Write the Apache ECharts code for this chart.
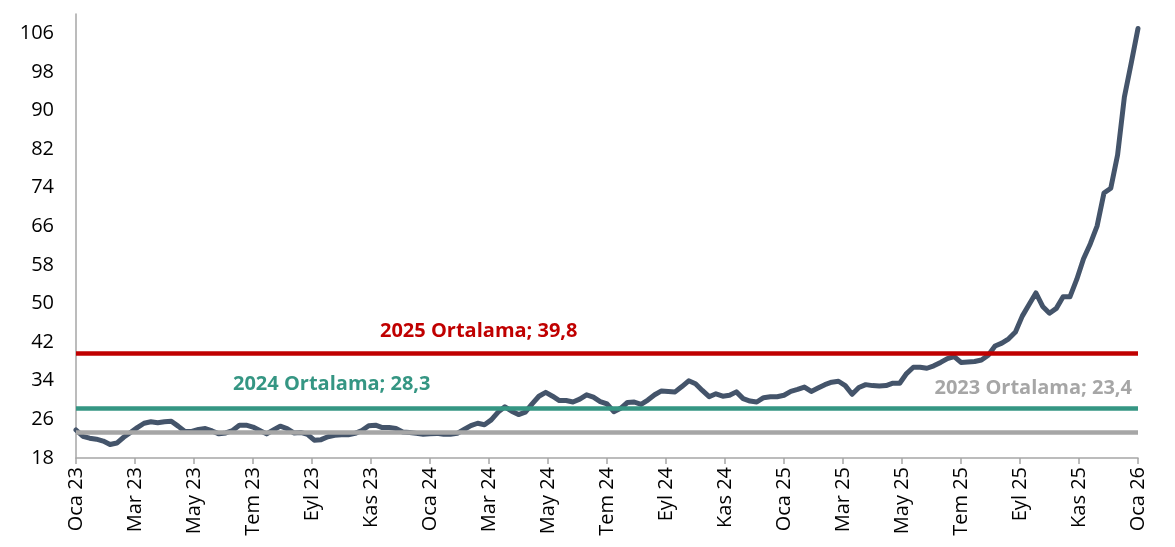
<!DOCTYPE html>
<html>
<head>
<meta charset="utf-8">
<script src="https://cdn.jsdelivr.net/npm/echarts@6/dist/echarts.min.js"></script>
<style>
  html, body { margin: 0; padding: 0; background: #fff; }
  #chart { width: 1175px; height: 547px; }
</style>
</head>
<body>
<div id="chart"></div>
<script>
// x ekseni etiketleri (2 ayda bir)
const tickLabels = ['Oca 23', 'Mar 23', 'May 23', 'Tem 23', 'Eyl 23', 'Kas 23',
  'Oca 24', 'Mar 24', 'May 24', 'Tem 24', 'Eyl 24', 'Kas 24',
  'Oca 25', 'Mar 25', 'May 25', 'Tem 25', 'Eyl 25', 'Kas 25', 'Oca 26'];

// haftalik degerler, Oca 23 - Oca 26
const weeklyValues = [
  23.8, 22.5, 22.1, 21.9, 21.5, 20.8, 21.1, 22.3, 23.3, 24.3,
  25.2, 25.5, 25.3, 25.5, 25.6, 24.6, 23.5, 23.5, 23.9, 24.1,
  23.6, 23.0, 23.2, 23.7, 24.8, 24.8, 24.4, 23.7, 23.0, 23.8,
  24.6, 24.1, 23.2, 23.3, 22.9, 21.7, 21.8, 22.4, 22.7, 22.8,
  22.8, 23.1, 23.7, 24.7, 24.8, 24.3, 24.3, 24.1, 23.4, 23.3,
  23.1, 22.9, 23.0, 23.1, 22.9, 22.9, 23.1, 23.9, 24.7, 25.2,
  24.9, 25.9, 27.5, 28.6, 27.7, 27.0, 27.5, 29.2, 30.8, 31.6,
  30.8, 29.9, 29.9, 29.6, 30.2, 31.1, 30.6, 29.7, 29.2, 27.6,
  28.3, 29.5, 29.6, 29.1, 30.0, 31.1, 31.9, 31.8, 31.7, 32.8,
  34.0, 33.4, 32.0, 30.7, 31.3, 30.8, 31.0, 31.7, 30.3, 29.8,
  29.6, 30.5, 30.7, 30.7, 31.0, 31.8, 32.2, 32.7, 31.8, 32.5,
  33.2, 33.7, 33.9, 33.0, 31.2, 32.6, 33.2, 33.0, 32.9, 33.0,
  33.5, 33.5, 35.5, 36.8, 36.8, 36.6, 37.1, 37.8, 38.6, 39.0,
  37.8, 37.9, 38.0, 38.3, 39.3, 41.2, 41.8, 42.7, 44.1, 47.4,
  49.8, 52.2, 49.4, 48.0, 49.0, 51.4, 51.4, 55.0, 59.3, 62.4,
  66.1, 72.9, 73.9, 80.8, 92.8, 99.8, 107.0
];

// yillik ortalamalar
const avgNames = ['2025 Ortalama', '2024 Ortalama', '2023 Ortalama'];
const avgValues = [39.8, 28.3, 23.4];

const totalMonths = (tickLabels.length - 1) * 2;
const seriesData = weeklyValues.map((v, i) => [i * totalMonths / (weeklyValues.length - 1), v]);

const fontFamily = '"Open Sans", "Noto Sans", sans-serif';
const avgColors = ['#c00000', '#359683', '#a6a6a6'];
const avgLabelPos = [
  { position: 'insideStartTop', distance: [304, 11] },
  { position: 'insideStartTop', distance: [157, 14] },
  { position: 'insideEndTop', distance: [6, 34] }
];

const chart = echarts.init(document.getElementById('chart'), null, { renderer: 'canvas' });

const option = {
  animation: false,
  grid: { left: 76, right: 37, top: 14, bottom: 89 },
  xAxis: {
    type: 'value',
    min: 0,
    max: totalMonths,
    interval: 2,
    axisLine: { lineStyle: { color: '#a6a6a6', width: 1.5 } },
    axisTick: { show: true, length: 6, lineStyle: { color: '#a6a6a6', width: 1.5 } },
    splitLine: { show: false },
    axisLabel: {
      rotate: 90,
      color: '#000',
      fontSize: 20,
      fontFamily: fontFamily,
      margin: 9,
      formatter: v => tickLabels[Math.round(v / 2)] || ''
    }
  },
  yAxis: {
    type: 'value',
    min: 18,
    max: 110,
    interval: 8,
    axisLine: { show: true, lineStyle: { color: '#a6a6a6', width: 1.5 } },
    axisTick: { show: false },
    splitLine: { show: false },
    axisLabel: {
      showMaxLabel: false,
      color: '#000',
      fontSize: 20,
      fontFamily: fontFamily,
      margin: 22,
      formatter: v => (v > 106 ? '' : String(v))
    }
  },
  series: [{
    type: 'line',
    data: seriesData,
    showSymbol: false,
    symbol: 'none',
    z: 3,
    lineStyle: { color: '#44546a', width: 5, join: 'round', cap: 'round' },
    markLine: {
      silent: true,
      symbol: 'none',
      z: 4,
      data: avgValues.map((v, i) => ({
        yAxis: v,
        lineStyle: { color: avgColors[i], width: 4.5, type: 'solid' },
        label: {
          show: true,
          position: avgLabelPos[i].position,
          distance: avgLabelPos[i].distance,
          formatter: avgNames[i] + '; ' + String(v).replace('.', ','),
          color: avgColors[i],
          fontSize: 20,
          fontWeight: 'bold',
          fontFamily: fontFamily
        }
      }))
    }
  }]
};

chart.setOption(option);
</script>
</body>
</html>
